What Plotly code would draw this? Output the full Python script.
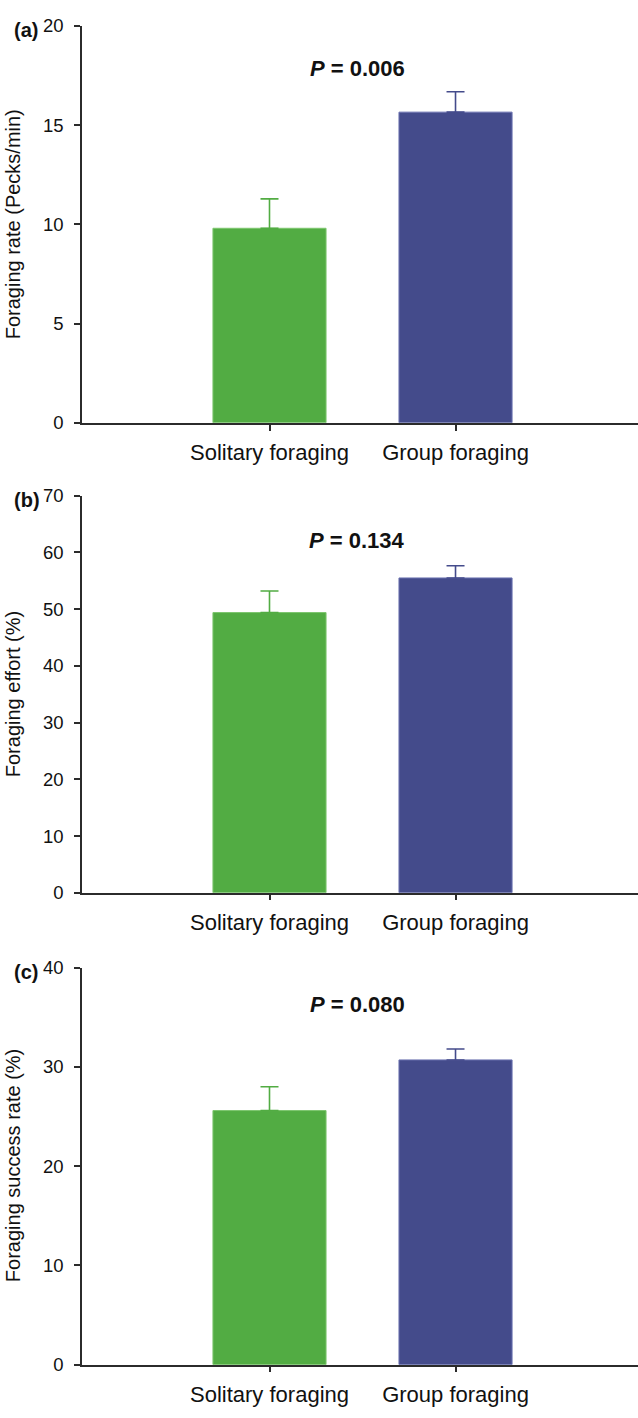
import plotly.graph_objects as go

# ---------------- data ----------------
categories = ["Solitary foraging", "Group foraging"]
rate_mean = [9.8, 15.65]
rate_se = [1.48, 1.03]
effort_mean = [49.4, 55.5]
effort_se = [3.8, 2.15]
success_mean = [25.6, 30.7]
success_se = [2.4, 1.1]
p_values = ["0.006", "0.134", "0.080"]
panel_labels = ["(a)", "(b)", "(c)"]
y_titles = ["Foraging rate (Pecks/min)", "Foraging effort (%)", "Foraging success rate (%)"]
y_max = [20, 70, 40]
y_step = [5, 10, 10]

means = [rate_mean, effort_mean, success_mean]
ses = [rate_se, effort_se, success_se]

# ---------------- style / layout ----------------
W, H = 638, 1418
colors = ["#52ac43", "#444b8b"]
edge = ["#7cc66e", "#6b72b0"]
axis_col = "#2b2b2b"
font_family = "Liberation Sans, Arial, sans-serif"

panel_top_px = [15, 492, 971]
panel_h_px = 403
x_left_px = 82
p_y_px = [58, 537, 1008]

fig = go.Figure()

for p in range(3):
    suffix = "" if p == 0 else str(p + 1)
    for i, cat in enumerate(categories):
        fig.add_trace(go.Bar(
            x=[cat], y=[means[p][i]],
            width=0.608,
            marker=dict(color=colors[i], line=dict(color=edge[i], width=1)),
            error_y=dict(type="data", array=[ses[p][i]], arrayminus=[0],
                         symmetric=False, color=colors[i], thickness=1.6, width=9),
            xaxis="x" + suffix, yaxis="y" + suffix,
            showlegend=False,
        ))

    top = 1 - panel_top_px[p] / H
    bot = 1 - (panel_top_px[p] + panel_h_px) / H
    fig.layout["xaxis" + suffix] = dict(
        domain=[x_left_px / W, 1], anchor="y" + suffix,
        type="category", categoryarray=categories, categoryorder="array",
        range=[-1.008, 1.981],
        showline=True, linecolor=axis_col, linewidth=1.5,
        ticks="outside", ticklen=6, tickwidth=1.5, tickcolor=axis_col,
        ticklabelstandoff=3,
        tickfont=dict(family=font_family, size=22, color="#111"),
        showgrid=False, zeroline=False, fixedrange=True,
    )
    fig.layout["yaxis" + suffix] = dict(
        domain=[bot, top], anchor="x" + suffix,
        range=[0, y_max[p]], tick0=0, dtick=y_step[p],
        showline=True, linecolor=axis_col, linewidth=1.5,
        ticks="outside", ticklen=6, tickwidth=1.5, tickcolor=axis_col,
        ticklabelstandoff=7,
        tickfont=dict(family=font_family, size=18.5, color="#111"),
        showgrid=False, zeroline=False, fixedrange=True,
    )

    # y-axis title
    fig.add_annotation(
        xref="paper", yref="paper", x=13 / W, y=(top + bot) / 2,
        text=y_titles[p], textangle=-90, showarrow=False,
        font=dict(family=font_family, size=20, color="#111"),
        xanchor="center", yanchor="middle",
    )
    # panel label
    fig.add_annotation(
        xref="paper", yref="paper", x=12 / W, y=1 - (panel_top_px[p] + 4) / H,
        text="<b>" + panel_labels[p] + "</b>", showarrow=False,
        font=dict(family=font_family, size=20, color="#111"),
        xanchor="left", yanchor="middle",
    )
    # P value
    fig.add_annotation(
        xref="paper", yref="paper", x=357 / W, y=1 - p_y_px[p] / H,
        text="<b><i>P</i> = " + p_values[p] + "</b>", showarrow=False,
        font=dict(family=font_family, size=22, color="#111"),
        xanchor="center", yanchor="middle",
    )

fig.update_layout(
    width=W, height=H,
    margin=dict(l=0, r=0, t=0, b=0),
    paper_bgcolor="white", plot_bgcolor="white",
    barmode="overlay",
    font=dict(family=font_family),
)

fig.write_html("out.html")
